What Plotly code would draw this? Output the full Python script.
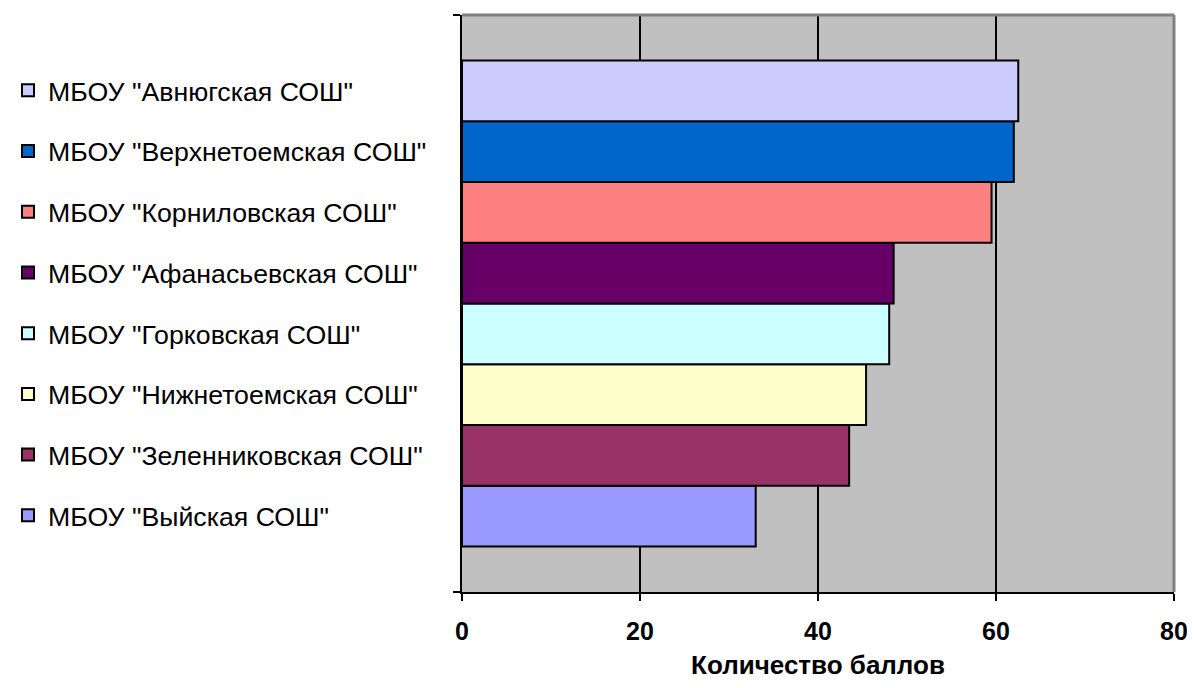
import plotly.graph_objects as go

schools = [
    'МБОУ "Авнюгская СОШ"',
    'МБОУ "Верхнетоемская СОШ"',
    'МБОУ "Корниловская СОШ"',
    'МБОУ "Афанасьевская СОШ"',
    'МБОУ "Горковская СОШ"',
    'МБОУ "Нижнетоемская СОШ"',
    'МБОУ "Зеленниковская СОШ"',
    'МБОУ "Выйская СОШ"',
]
scores = [62.5, 62.0, 59.5, 48.5, 48.0, 45.4, 43.5, 33.0]
colors = ["#CCCCFF", "#0066CC", "#FF8080", "#660066",
          "#CCFFFF", "#FFFFCC", "#993366", "#9999FF"]
category = ["Баллы"]
x_ticks = [0, 20, 40, 60, 80]
x_title = "Количество баллов"

FONT = "Liberation Sans, Arial, sans-serif"

W, H = 1179, 672

fig = go.Figure()
# Plotly stacks grouped horizontal bars bottom-up, so add in reverse order
items = list(zip(schools, scores, colors))
for rank, (name, val, col) in reversed(list(enumerate(items))):
    fig.add_trace(go.Bar(
        y=category, x=[val], name=name, orientation="h",
        legendgroup=name, legendrank=rank + 1,
        marker=dict(color=col, line=dict(color="black", width=2)),
        hoverinfo="x+name",
    ))

fig.update_layout(
    width=W, height=H,
    margin=dict(l=454, r=13, t=7, b=88, autoexpand=False),
    paper_bgcolor="white",
    plot_bgcolor="#C0C0C0",
    barmode="group",
    bargap=0.158,
    bargroupgap=0,
    font=dict(family=FONT, color="black"),
    legend=dict(
        xref="container", yref="container",
        x=0, xanchor="left",
        y=1 - 58.5 / H, yanchor="top",
        traceorder="grouped",
        tracegroupgap=23,
        maxheight=H,
        font=dict(size=26.7, family=FONT, color="black"),
        bgcolor="rgba(0,0,0,0)",
        itemwidth=30,
    ),
    xaxis=dict(
        range=[0, 80],
        tickvals=x_ticks,
        ticktext=[str(t) for t in x_ticks],
        tickfont=dict(size=25, family=FONT, color="black", weight="bold"),
        ticks="outside", ticklen=7, tickwidth=2, tickcolor="black",
        ticklabelstandoff=9,
        ticklabeloverflow="allow",
        automargin=False,
        showline=True, linecolor="black", linewidth=2,
        showgrid=True, gridcolor="black", gridwidth=2,
        zeroline=False,
        title=dict(text=x_title, font=dict(size=26, family=FONT, color="black", weight="bold"), standoff=30),
    ),
    yaxis=dict(
        range=[-0.5, 0.5],
        showticklabels=False,
        tickson="boundaries",
        ticks="outside", ticklen=7, tickwidth=2, tickcolor="black",
        showline=True, linecolor="black", linewidth=2,
        showgrid=False, zeroline=False,
        automargin=False,
    ),
    shapes=[
        dict(type="line", xref="paper", yref="paper", x0=0, x1=1, y0=1, y1=1,
             line=dict(color="#808080", width=3), layer="above"),
        dict(type="line", xref="paper", yref="paper", x0=1, x1=1, y0=0, y1=1,
             line=dict(color="#808080", width=3), layer="above"),
    ],
)

fig.write_html("out.html")
